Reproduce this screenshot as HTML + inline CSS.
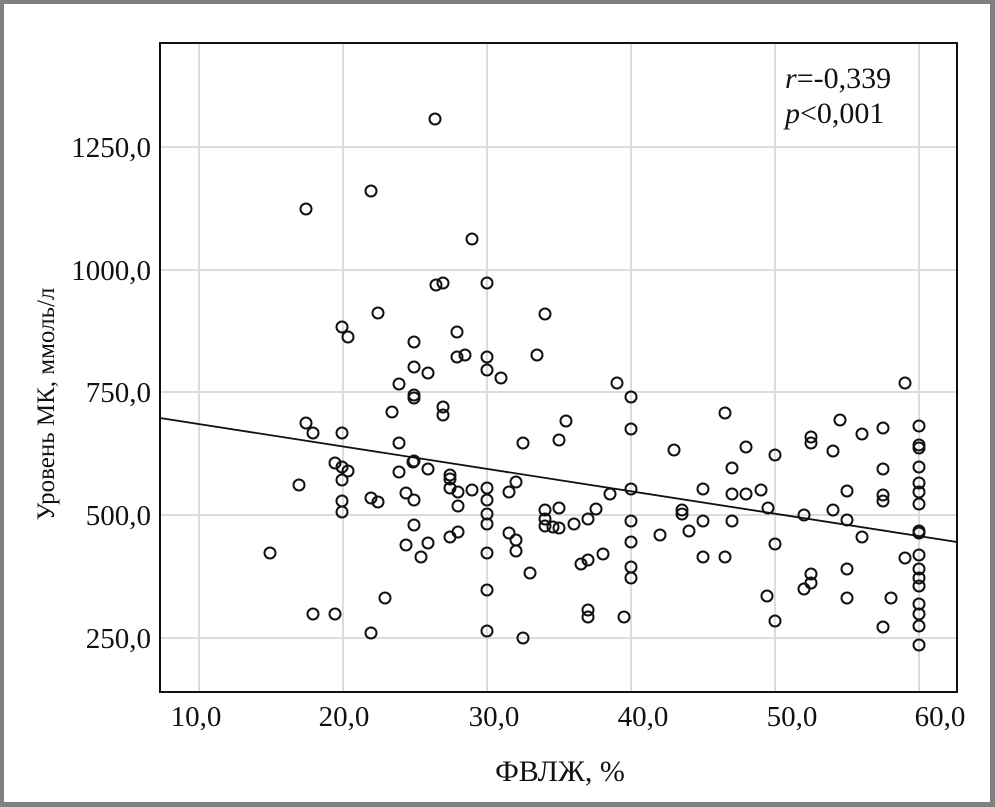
<!DOCTYPE html>
<html><head><meta charset="utf-8"><style>
html,body{margin:0;padding:0;background:#fff}
svg{display:block}
text{font-family:"Liberation Serif",serif;fill:#111}
</style></head><body>
<svg width="995" height="807" viewBox="0 0 995 807" xmlns="http://www.w3.org/2000/svg">
<rect x="0" y="0" width="995" height="807" fill="#808080"/>
<rect x="4" y="4" width="986" height="798" fill="#fff"/>
<g stroke="#dcdcdc" stroke-width="2">
<line x1="199" y1="43" x2="199" y2="692"/><line x1="343" y1="43" x2="343" y2="692"/><line x1="487" y1="43" x2="487" y2="692"/><line x1="631" y1="43" x2="631" y2="692"/><line x1="775" y1="43" x2="775" y2="692"/><line x1="919" y1="43" x2="919" y2="692"/>
<line x1="160" y1="147" x2="957" y2="147"/><line x1="160" y1="270" x2="957" y2="270"/><line x1="160" y1="392" x2="957" y2="392"/><line x1="160" y1="515" x2="957" y2="515"/><line x1="160" y1="638" x2="957" y2="638"/>
</g>
<line x1="160" y1="418" x2="957" y2="542" stroke="#111" stroke-width="1.8"/>
<rect x="160" y="43" width="797" height="649" fill="none" stroke="#111" stroke-width="2"/>
<g font-size="29" text-anchor="end">
<text x="151" y="157">1250,0</text><text x="151" y="280">1000,0</text><text x="151" y="402">750,0</text><text x="151" y="525">500,0</text><text x="151" y="648">250,0</text>
</g>
<g font-size="29" text-anchor="middle">
<text x="196" y="726">10,0</text><text x="344" y="726">20,0</text><text x="494" y="726">30,0</text><text x="643" y="726">40,0</text><text x="792" y="726">50,0</text><text x="940" y="726">60,0</text>
</g>
<text x="560" y="781" font-size="30" text-anchor="middle">ФВЛЖ, %</text>
<text transform="translate(54,404) rotate(-90)" font-size="25" text-anchor="middle">Уровень МК, ммоль/л</text>
<text x="785" y="88" font-size="30"><tspan font-style="italic">r</tspan>=-0,339</text>
<text x="785" y="123" font-size="30"><tspan font-style="italic">p</tspan>&lt;0,001</text>
<g fill="none" stroke="#111" stroke-width="2">
<circle cx="270" cy="553" r="5.5"/><circle cx="299" cy="485" r="5.5"/><circle cx="306" cy="209" r="5.5"/><circle cx="306" cy="423" r="5.5"/><circle cx="313" cy="433" r="5.5"/><circle cx="313" cy="614" r="5.5"/><circle cx="335" cy="614" r="5.5"/><circle cx="335" cy="463" r="5.5"/><circle cx="342" cy="327" r="5.5"/><circle cx="342" cy="433" r="5.5"/><circle cx="342" cy="467" r="5.5"/><circle cx="342" cy="480" r="5.5"/><circle cx="342" cy="501" r="5.5"/><circle cx="342" cy="512" r="5.5"/><circle cx="348" cy="337" r="5.5"/><circle cx="348" cy="471" r="5.5"/><circle cx="371" cy="191" r="5.5"/><circle cx="371" cy="498" r="5.5"/><circle cx="371" cy="633" r="5.5"/><circle cx="378" cy="313" r="5.5"/><circle cx="378" cy="502" r="5.5"/><circle cx="385" cy="598" r="5.5"/><circle cx="392" cy="412" r="5.5"/><circle cx="399" cy="384" r="5.5"/><circle cx="399" cy="443" r="5.5"/><circle cx="399" cy="472" r="5.5"/><circle cx="406" cy="545" r="5.5"/><circle cx="406" cy="493" r="5.5"/><circle cx="413" cy="462" r="5.5"/><circle cx="414" cy="342" r="5.5"/><circle cx="414" cy="395" r="5.5"/><circle cx="414" cy="398" r="5.5"/><circle cx="414" cy="367" r="5.5"/><circle cx="414" cy="461" r="5.5"/><circle cx="414" cy="500" r="5.5"/><circle cx="414" cy="525" r="5.5"/><circle cx="421" cy="557" r="5.5"/><circle cx="428" cy="469" r="5.5"/><circle cx="428" cy="373" r="5.5"/><circle cx="428" cy="543" r="5.5"/><circle cx="435" cy="119" r="5.5"/><circle cx="436" cy="285" r="5.5"/><circle cx="443" cy="283" r="5.5"/><circle cx="443" cy="407" r="5.5"/><circle cx="443" cy="415" r="5.5"/><circle cx="450" cy="475" r="5.5"/><circle cx="450" cy="479" r="5.5"/><circle cx="450" cy="488" r="5.5"/><circle cx="450" cy="537" r="5.5"/><circle cx="457" cy="332" r="5.5"/><circle cx="457" cy="357" r="5.5"/><circle cx="458" cy="492" r="5.5"/><circle cx="458" cy="506" r="5.5"/><circle cx="458" cy="532" r="5.5"/><circle cx="465" cy="355" r="5.5"/><circle cx="472" cy="239" r="5.5"/><circle cx="472" cy="490" r="5.5"/><circle cx="487" cy="283" r="5.5"/><circle cx="487" cy="357" r="5.5"/><circle cx="487" cy="370" r="5.5"/><circle cx="487" cy="488" r="5.5"/><circle cx="487" cy="500" r="5.5"/><circle cx="487" cy="514" r="5.5"/><circle cx="487" cy="524" r="5.5"/><circle cx="487" cy="553" r="5.5"/><circle cx="487" cy="590" r="5.5"/><circle cx="487" cy="631" r="5.5"/><circle cx="501" cy="378" r="5.5"/><circle cx="509" cy="492" r="5.5"/><circle cx="509" cy="533" r="5.5"/><circle cx="516" cy="551" r="5.5"/><circle cx="516" cy="540" r="5.5"/><circle cx="516" cy="482" r="5.5"/><circle cx="523" cy="443" r="5.5"/><circle cx="523" cy="638" r="5.5"/><circle cx="530" cy="573" r="5.5"/><circle cx="537" cy="355" r="5.5"/><circle cx="545" cy="314" r="5.5"/><circle cx="545" cy="519" r="5.5"/><circle cx="545" cy="510" r="5.5"/><circle cx="545" cy="526" r="5.5"/><circle cx="553" cy="527" r="5.5"/><circle cx="559" cy="440" r="5.5"/><circle cx="559" cy="508" r="5.5"/><circle cx="559" cy="528" r="5.5"/><circle cx="566" cy="421" r="5.5"/><circle cx="574" cy="524" r="5.5"/><circle cx="581" cy="564" r="5.5"/><circle cx="588" cy="610" r="5.5"/><circle cx="588" cy="617" r="5.5"/><circle cx="588" cy="519" r="5.5"/><circle cx="588" cy="560" r="5.5"/><circle cx="596" cy="509" r="5.5"/><circle cx="603" cy="554" r="5.5"/><circle cx="610" cy="494" r="5.5"/><circle cx="617" cy="383" r="5.5"/><circle cx="624" cy="617" r="5.5"/><circle cx="631" cy="397" r="5.5"/><circle cx="631" cy="429" r="5.5"/><circle cx="631" cy="489" r="5.5"/><circle cx="631" cy="521" r="5.5"/><circle cx="631" cy="542" r="5.5"/><circle cx="631" cy="567" r="5.5"/><circle cx="631" cy="578" r="5.5"/><circle cx="660" cy="535" r="5.5"/><circle cx="674" cy="450" r="5.5"/><circle cx="682" cy="510" r="5.5"/><circle cx="682" cy="514" r="5.5"/><circle cx="689" cy="531" r="5.5"/><circle cx="703" cy="489" r="5.5"/><circle cx="703" cy="521" r="5.5"/><circle cx="703" cy="557" r="5.5"/><circle cx="725" cy="413" r="5.5"/><circle cx="725" cy="557" r="5.5"/><circle cx="732" cy="468" r="5.5"/><circle cx="732" cy="494" r="5.5"/><circle cx="732" cy="521" r="5.5"/><circle cx="746" cy="447" r="5.5"/><circle cx="746" cy="494" r="5.5"/><circle cx="761" cy="490" r="5.5"/><circle cx="767" cy="596" r="5.5"/><circle cx="768" cy="508" r="5.5"/><circle cx="775" cy="455" r="5.5"/><circle cx="775" cy="544" r="5.5"/><circle cx="775" cy="621" r="5.5"/><circle cx="804" cy="515" r="5.5"/><circle cx="804" cy="589" r="5.5"/><circle cx="811" cy="437" r="5.5"/><circle cx="811" cy="443" r="5.5"/><circle cx="811" cy="574" r="5.5"/><circle cx="811" cy="583" r="5.5"/><circle cx="833" cy="451" r="5.5"/><circle cx="833" cy="510" r="5.5"/><circle cx="840" cy="420" r="5.5"/><circle cx="847" cy="491" r="5.5"/><circle cx="847" cy="520" r="5.5"/><circle cx="847" cy="569" r="5.5"/><circle cx="847" cy="598" r="5.5"/><circle cx="862" cy="434" r="5.5"/><circle cx="862" cy="537" r="5.5"/><circle cx="883" cy="428" r="5.5"/><circle cx="883" cy="469" r="5.5"/><circle cx="883" cy="495" r="5.5"/><circle cx="883" cy="501" r="5.5"/><circle cx="883" cy="627" r="5.5"/><circle cx="891" cy="598" r="5.5"/><circle cx="905" cy="558" r="5.5"/><circle cx="905" cy="383" r="5.5"/><circle cx="919" cy="426" r="5.5"/><circle cx="919" cy="445" r="5.5"/><circle cx="919" cy="448" r="5.5"/><circle cx="919" cy="467" r="5.5"/><circle cx="919" cy="483" r="5.5"/><circle cx="919" cy="492" r="5.5"/><circle cx="919" cy="504" r="5.5"/><circle cx="919" cy="531" r="5.5"/><circle cx="919" cy="533" r="5.5"/><circle cx="919" cy="555" r="5.5"/><circle cx="919" cy="569" r="5.5"/><circle cx="919" cy="578" r="5.5"/><circle cx="919" cy="586" r="5.5"/><circle cx="919" cy="604" r="5.5"/><circle cx="919" cy="614" r="5.5"/><circle cx="919" cy="626" r="5.5"/><circle cx="919" cy="645" r="5.5"/>
</g>
</svg>
</body></html>
